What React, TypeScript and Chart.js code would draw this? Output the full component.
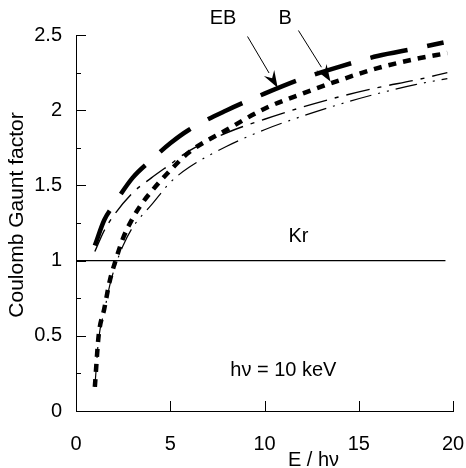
import React, { useEffect, useRef } from "react";
import { Chart, registerables } from "chart.js";

Chart.register(...registerables);

// Thick long-dash curve
const ebX = [1, 1.5, 2, 3, 4, 5, 6, 8, 10, 12, 14, 16, 18, 19.5];
const ebY = [1.1, 1.27, 1.37, 1.55, 1.67, 1.78, 1.87, 2.0, 2.11, 2.21, 2.29, 2.36, 2.41, 2.45];
// Thin long-dash curve
const ebThinX = [1, 1.5, 2, 3, 4, 5, 6, 8, 10, 12, 14, 16, 18, 19.7];
const ebThinY = [1.06, 1.2, 1.3, 1.45, 1.55, 1.64, 1.73, 1.85, 1.94, 2.02, 2.09, 2.15, 2.2, 2.25];
// Thick short-dash curve
const bX = [1, 1.2, 1.5, 1.8, 2.1, 2.5, 3, 3.5, 4, 5, 6, 8, 10, 12, 14, 16, 18, 19.7];
const bY = [0.16, 0.5, 0.68, 0.87, 1.0, 1.15, 1.28, 1.38, 1.46, 1.6, 1.72, 1.87, 2.01, 2.11, 2.2, 2.28, 2.34, 2.38];
// Thin dash-dot-dot curve
const bThinY = [0.16, 0.48, 0.66, 0.84, 0.97, 1.1, 1.22, 1.3, 1.37, 1.52, 1.62, 1.76, 1.87, 1.96, 2.04, 2.11, 2.17, 2.21];
// Reference line g = 1
const refX = [0, 19.6];
const refY = [1, 1];

const xTickValues = [0, 5, 10, 15, 20];
const yMajorTicks = [0, 0.5, 1, 1.5, 2, 2.5];
const yMinorTicks = [0.25, 0.75, 1.25, 1.75, 2.25];

const xTitle = "E / hν";
const yTitle = "Coulomb Gaunt factor";
const textLabels = [
  { text: "EB", x: 7.8, y: 2.61 },
  { text: "B", x: 11.1, y: 2.61 },
  { text: "Kr", x: 11.8, y: 1.16 },
  { text: "hν = 10 keV", x: 11.0, y: 0.27 },
];
const arrows = [
  { x0: 9.1, y0: 2.49, x1: 10.7, y1: 2.15 },
  { x0: 11.8, y0: 2.53, x1: 13.5, y1: 2.19 },
];

const FONT = "'Liberation Sans', Arial, Helvetica, sans-serif";

const zip = (xs: number[], ys: number[]) => xs.map((x, i) => ({ x, y: ys[i] }));

const overlay = {
  id: "overlay",
  afterDraw(chart: any) {
    const { ctx, scales, chartArea } = chart;
    const xs = scales.x;
    const ys = scales.y;
    ctx.save();
    ctx.strokeStyle = "#000";
    ctx.fillStyle = "#000";
    ctx.lineWidth = 1;
    // inward ticks
    ctx.beginPath();
    for (const v of yMajorTicks) {
      const py = Math.round(ys.getPixelForValue(v)) + 0.5;
      ctx.moveTo(chartArea.left, py);
      ctx.lineTo(chartArea.left + 10, py);
    }
    for (const v of yMinorTicks) {
      const py = Math.round(ys.getPixelForValue(v)) + 0.5;
      ctx.moveTo(chartArea.left, py);
      ctx.lineTo(chartArea.left + 5, py);
    }
    for (const v of xTickValues) {
      if (v === 0) continue;
      const px = Math.round(xs.getPixelForValue(v)) + 0.5;
      ctx.moveTo(px, chartArea.bottom);
      ctx.lineTo(px, chartArea.bottom - 10);
    }
    ctx.stroke();

    // arrows
    for (const a of arrows) {
      const x0 = xs.getPixelForValue(a.x0);
      const y0 = ys.getPixelForValue(a.y0);
      const x1 = xs.getPixelForValue(a.x1);
      const y1 = ys.getPixelForValue(a.y1);
      const ang = Math.atan2(y1 - y0, x1 - x0);
      const len = 17;
      const hw = 6;
      const bx = x1 - len * Math.cos(ang);
      const by = y1 - len * Math.sin(ang);
      ctx.beginPath();
      ctx.moveTo(x0, y0);
      ctx.lineTo(bx, by);
      ctx.stroke();
      ctx.beginPath();
      ctx.moveTo(x1, y1);
      ctx.lineTo(bx + hw * Math.sin(ang), by - hw * Math.cos(ang));
      ctx.lineTo(x1 - (len - 6) * Math.cos(ang), y1 - (len - 6) * Math.sin(ang));
      ctx.lineTo(bx - hw * Math.sin(ang), by + hw * Math.cos(ang));
      ctx.closePath();
      ctx.fill();
    }

    // text annotations
    ctx.font = `20px ${FONT}`;
    ctx.textAlign = "center";
    ctx.textBaseline = "middle";
    for (const t of textLabels) {
      ctx.fillText(t.text, xs.getPixelForValue(t.x), ys.getPixelForValue(t.y));
    }

    // axis titles
    ctx.fillText(xTitle, (chartArea.left + chartArea.right) / 2 + 49, chartArea.bottom + 49);
    ctx.save();
    ctx.font = `21px ${FONT}`;
    ctx.translate(17, (chartArea.top + chartArea.bottom) / 2 - 8);
    ctx.rotate(-Math.PI / 2);
    ctx.fillText(yTitle, 0, 0);
    ctx.restore();
    ctx.restore();
  },
};

export default function App() {
  const ref = useRef<HTMLCanvasElement | null>(null);
  useEffect(() => {
    if (!ref.current) return;
    const common = { pointRadius: 0, fill: false, borderColor: "#000", cubicInterpolationMode: "monotone" as const };
    const chart = new Chart(ref.current, {
      type: "line",
      data: {
        datasets: [
          { ...common, data: zip(refX, refY), borderWidth: 1.2 },
          { ...common, data: zip(ebThinX, ebThinY), borderWidth: 1.4, borderDash: [24, 8, 4, 8] },
          { ...common, data: zip(bX, bThinY), borderWidth: 1.2, borderDash: [22, 7, 2, 7, 2, 7] },
          { ...common, data: zip(bX, bY), borderWidth: 4.5, borderDash: [8, 7] },
          { ...common, data: zip(ebX, ebY), borderWidth: 4.5, borderDash: [38, 20] },
        ],
      },
      options: {
        animation: false,
        responsive: false,
        maintainAspectRatio: false,
        layout: { padding: { left: 0, top: 35, right: 0, bottom: 0 } },
        plugins: { legend: { display: false }, tooltip: { enabled: false } },
        scales: {
          x: {
            type: "linear",
            min: 0,
            max: 20,
            afterFit: (s: any) => { s.height = 57; s.paddingRight = 13; s.paddingLeft = 0; },
            afterBuildTicks: (s: any) => { s.ticks = xTickValues.map((v) => ({ value: v })); },
            grid: { display: false, drawTicks: false },
            border: { display: true, color: "#000", width: 1 },
            ticks: { color: "#000", padding: 21, font: { size: 20, family: FONT }, maxRotation: 0 },
          },
          y: {
            type: "linear",
            min: 0,
            max: 2.5,
            afterFit: (s: any) => { s.width = 76; },
            afterBuildTicks: (s: any) => { s.ticks = yMajorTicks.map((v) => ({ value: v })); },
            grid: { display: false, drawTicks: false },
            border: { display: true, color: "#000", width: 1 },
            ticks: { color: "#000", padding: 14, font: { size: 20, family: FONT }, callback: (v: any) => String(v) },
          },
        },
      },
      plugins: [overlay],
    });
    return () => chart.destroy();
  }, []);
  return (
    <div style={{ position: "fixed", left: 0, top: 0, width: 466, height: 468, background: "#fff" }}>
      <canvas ref={ref} width={466} height={468} />
    </div>
  );
}
